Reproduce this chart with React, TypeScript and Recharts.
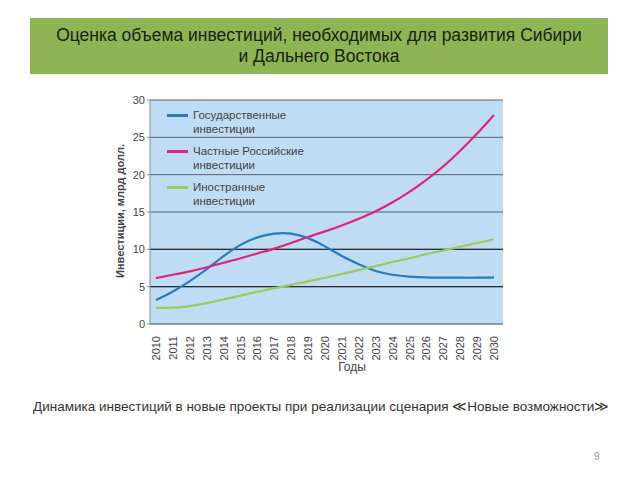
import React from 'react';
import { LineChart, Line, XAxis, YAxis, CartesianGrid, ReferenceLine } from 'recharts';

const YEARS = ['2010', '2011', '2012', '2013', '2014', '2015', '2016', '2017', '2018', '2019', '2020',
  '2021', '2022', '2023', '2024', '2025', '2026', '2027', '2028', '2029', '2030'];
const STATE = [3.2, 4.35, 5.75, 7.35, 9.1, 10.6, 11.6, 12.1, 12.1, 11.5, 10.4, 9.1, 8.0, 7.1, 6.6, 6.35, 6.25, 6.2, 6.2, 6.2, 6.25];
const PRIVATE = [6.15, 6.6, 7.05, 7.6, 8.2, 8.8, 9.45, 10.1, 10.85, 11.65, 12.4, 13.2, 14.1, 15.1, 16.3, 17.7, 19.3, 21.1, 23.2, 25.5, 28.0];
const FOREIGN = [2.15, 2.2, 2.4, 2.8, 3.3, 3.8, 4.3, 4.8, 5.25, 5.7, 6.2, 6.7, 7.25, 7.75, 8.3, 8.8, 9.35, 9.85, 10.35, 10.85, 11.35];
const Y_TICKS = [0, 5, 10, 15, 20, 25, 30];

const SERIES = [
  { key: 'state', name: 'Государственные\nинвестиции', color: '#2b7bba' },
  { key: 'private', name: 'Частные Российские\nинвестиции', color: '#e0237c' },
  { key: 'foreign', name: 'Иностранные\nинвестиции', color: '#9bcb5c' },
];

const data = YEARS.map((year, i) => ({
  year,
  state: STATE[i],
  private: PRIVATE[i],
  foreign: FOREIGN[i],
}));

const FONT = '"Liberation Sans", Arial, sans-serif';

function YearTick({ x, y, payload }: any) {
  return (
    <text
      x={x}
      y={y + 4}
      transform={`rotate(-90, ${x}, ${y + 4})`}
      textAnchor="end"
      dominantBaseline="central"
      fontSize={11}
      fill="#444"
      fontFamily={FONT}
    >
      {payload.value}
    </text>
  );
}

function LegendBox() {
  return (
    <div style={{ position: 'absolute', left: 167, top: 108, fontSize: 11.5, color: '#444', lineHeight: '14px' }}>
      {SERIES.map((s) => (
        <div key={s.key} style={{ display: 'flex', alignItems: 'flex-start', marginBottom: 8 }}>
          <div style={{ width: 21, height: 3, background: s.color, marginTop: 6, marginRight: 5 }} />
          <div style={{ whiteSpace: 'pre' }}>{s.name}</div>
        </div>
      ))}
    </div>
  );
}

export default function App() {
  return (
    <div style={{ position: 'absolute', left: 0, top: 0, width: 640, height: 480, background: '#fff', fontFamily: FONT }}>
      <div
        style={{
          position: 'absolute', left: 30, top: 18, width: 578, height: 56, background: '#8db553',
          color: '#1a2210', fontSize: 17.5, lineHeight: '21px', textAlign: 'center',
          display: 'flex', alignItems: 'center', justifyContent: 'center',
        }}
      >
        <div>Оценка объема инвестиций, необходимых для развития Сибири<br />и Дальнего Востока</div>
      </div>

      <div style={{ position: 'absolute', left: 0, top: 0 }}>
        <LineChart width={640} height={480} data={data} margin={{ top: 100, right: 137, bottom: 116, left: 100 }}>
          <CartesianGrid vertical={false} stroke="#59636b" strokeWidth={1} fill="#bedcf3" />
          <ReferenceLine y={5} stroke="#2a2f33" strokeWidth={1.2} />
          <ReferenceLine y={10} stroke="#2a2f33" strokeWidth={1.2} />
          <XAxis
            dataKey="year"
            height={40}
            interval={0}
            padding={{ left: 6, right: 9 }}
            tick={<YearTick />}
            tickLine={false}
            axisLine={{ stroke: '#8a8f94' }}
          />
          <YAxis
            width={50}
            domain={[0, 30]}
            ticks={Y_TICKS}
            interval={0}
            tickSize={3}
            tickLine={{ stroke: '#8a8f94' }}
            axisLine={{ stroke: '#8a8f94' }}
            tick={{ fontSize: 11, fill: '#444', fontFamily: FONT }}
          />
          {SERIES.map((s) => (
            <Line
              key={s.key}
              type="natural"
              dataKey={s.key}
              stroke={s.color}
              strokeWidth={2.2}
              dot={false}
              isAnimationActive={false}
            />
          ))}
        </LineChart>
      </div>

      <LegendBox />

      <div
        style={{
          position: 'absolute', left: 120, top: 211, transform: 'translate(-50%, -50%) rotate(-90deg)',
          fontSize: 11, fontWeight: 'bold', color: '#444', whiteSpace: 'nowrap',
        }}
      >
        Инвестиции, млрд долл.
      </div>
      <div style={{ position: 'absolute', left: 352, top: 367, transform: 'translate(-50%, -50%)', fontSize: 12, color: '#444' }}>
        Годы
      </div>

      <div style={{ position: 'absolute', left: 33, top: 398, fontSize: 13.5, color: '#333', whiteSpace: 'nowrap' }}>
        Динамика инвестиций в новые проекты при реализации сценария ≪Новые возможности≫
      </div>
      <div style={{ position: 'absolute', left: 594, top: 451, fontSize: 10, color: '#999' }}>9</div>
    </div>
  );
}
